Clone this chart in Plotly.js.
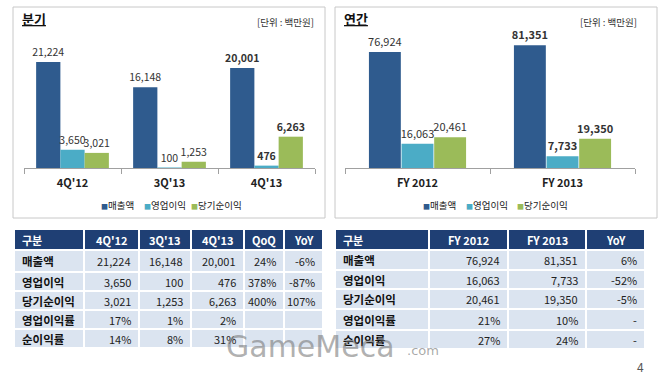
<!DOCTYPE html>
<html><head><meta charset="utf-8">
<script src="https://cdn.plot.ly/plotly-3.0.1.min.js"></script>
<style>html,body{margin:0;padding:0;background:#fff}#c{width:660px;height:378px}</style>
</head><body><div id="c"></div>
<script>
// ---- data ----
const seriesNames = ["매출액", "영업이익", "당기순이익"];
const quarters = ["4Q'12", "3Q'13", "4Q'13"];
const qSales = [21224, 16148, 20001];
const qOp = [3650, 100, 476];
const qNet = [3021, 1253, 6263];
const years = ["FY 2012", "FY 2013"];
const ySales = [76924, 81351];
const yOp = [16063, 7733];
const yNet = [20461, 19350];
const rowLabels = ["매출액", "영업이익", "당기순이익", "영업이익률", "순이익률"];
const qOpMargin = ["17%", "1%", "2%"];
const qNetMargin = ["14%", "8%", "31%"];
const qQoQ = ["24%", "378%", "400%", "", ""];
const qYoY = ["-6%", "-87%", "107%", "", ""];
const yOpMargin = ["21%", "10%"];
const yNetMargin = ["27%", "24%"];
const yYoY = ["6%", "-52%", "-5%", "-", "-"];
const headerFirst = "구분";
const changeHeaders = ["QoQ", "YoY"];

// ---- layout helpers ----
const W = 660, H = 378;
const px = x => x / W, py = y => 1 - y / H;
const fmt = v => v.toLocaleString('en-US');
const colors = ["#2f5b8e", "#4bacc6", "#9bbb59"];
const FONT = "'Noto Sans CJK KR', 'Noto Sans', sans-serif";

function labels(arr) {
  return arr.map((v, i) => i === arr.length - 1 ? "<b>%{y:,}</b>" : "%{y:,}");
}

const traces = [];
const qSeries = [qSales, qOp, qNet];
const ySeries = [ySales, yOp, yNet];
const qOff = [-0.375, -0.125, 0.125], qW = 0.25;
const yOff = [-0.335, -0.11, 0.115], yW = 0.22;
qSeries.forEach((s, i) => traces.push({
  type: 'bar', x: quarters, y: s, name: seriesNames[i], xaxis: 'x', yaxis: 'y',
  showlegend: false, marker: {color: colors[i]}, width: qW, offset: qOff[i],
  texttemplate: labels(s), textposition: 'outside', cliponaxis: false, constraintext: 'none',
  textfont: {size: 10.5, color: '#333', family: FONT}, hoverinfo: 'skip'
}));
ySeries.forEach((s, i) => traces.push({
  type: 'bar', x: years, y: s, name: seriesNames[i], xaxis: 'x2', yaxis: 'y2',
  showlegend: false, marker: {color: colors[i]}, width: yW, offset: yOff[i],
  texttemplate: labels(s), textposition: 'outside', cliponaxis: false, constraintext: 'none',
  textfont: {size: 11, color: '#333', family: FONT}, hoverinfo: 'skip'
}));

// ---- tables (heatmap cells + text) ----
const qColumns = [rowLabels].concat(
  [0, 1, 2].map(i => [fmt(qSales[i]), fmt(qOp[i]), fmt(qNet[i]), qOpMargin[i], qNetMargin[i]]),
  [qQoQ, qYoY]);
const qHeaders = [headerFirst].concat(quarters, changeHeaders);
const yColumns = [rowLabels].concat(
  [0, 1].map(i => [fmt(ySales[i]), fmt(yOp[i]), fmt(yNet[i]), yOpMargin[i], yNetMargin[i]]),
  [yYoY]);
const yHeaders = [headerFirst].concat(years, ["YoY"]);

// column / row edges (layout sizes in px)
const qColEdges = [0, 70, 125, 177, 230, 270, 309];
const qRowEdges = [0, 21, 43, 62, 81, 100, 119];
const yColEdges = [0, 94, 173, 251, 310];
const yRowEdges = [0, 21, 41, 60, 80, 101, 120];

const annotations = [];
function buildTable(headers, columns, colEdges, rowEdges, xa, ya) {
  const nRows = columns[0].length + 1;
  const z = [];
  for (let r = 0; r < nRows; r++) z.push(headers.map(() => r === 0 ? 1 : 0));
  traces.push({
    type: 'heatmap', x: colEdges, y: rowEdges, z: z, xaxis: xa, yaxis: ya,
    colorscale: [[0, '#dbe4f0'], [1, '#1f3f74']], zmin: 0, zmax: 1, showscale: false,
    xgap: 2, ygap: 2, hoverinfo: 'skip'
  });
  headers.forEach((h, c) => {
    const left = c === 0;
    annotations.push({
      text: '<b>' + h + '</b>', xref: xa, yref: ya,
      x: left ? colEdges[c] + 6 : (colEdges[c] + colEdges[c + 1]) / 2,
      y: (rowEdges[0] + rowEdges[1]) / 2, xanchor: left ? 'left' : 'center', yanchor: 'middle',
      showarrow: false, font: {size: 11, color: '#ffffff', family: FONT}
    });
  });
  columns.forEach((col, c) => {
    col.forEach((v, r) => {
      const left = c === 0;
      annotations.push({
        text: left ? '<b>' + v + '</b>' : v, xref: xa, yref: ya,
        x: left ? colEdges[c] + 6 : colEdges[c + 1] - 6,
        y: (rowEdges[r + 1] + rowEdges[r + 2]) / 2, xanchor: left ? 'left' : 'right', yanchor: 'middle',
        showarrow: false, font: {size: left ? 11.5 : 11, color: left ? '#111' : '#222', family: FONT}
      });
    });
  });
}
buildTable(qHeaders, qColumns, qColEdges, qRowEdges, 'x3', 'y3');
buildTable(yHeaders, yColumns, yColEdges, yRowEdges, 'x4', 'y4');

// ---- legends (colored squares + text) ----
const legendPos = [[100, 143, 190], [422, 465, 516]];
legendPos.forEach(pos => pos.forEach((x, i) => annotations.push({
  text: "<span style='color:" + colors[i] + ";font-size:7px'>■</span>" + seriesNames[i],
  xref: 'paper', yref: 'paper', x: px(x - 1), y: py(205), xanchor: 'left', yanchor: 'middle',
  showarrow: false, font: {size: 9.5, color: '#222', family: FONT}
})));

const xax = dom => ({domain: dom, type: 'category', showline: true, linecolor: '#a0a0a0',
  ticks: 'outside', tickson: 'boundaries', ticklen: 5, tickcolor: '#a0a0a0', showgrid: false,
  ticklabelstandoff: 5,
  zeroline: false, tickfont: {size: 11, color: '#222', family: FONT, weight: 'bold'}, fixedrange: true});
const yax = (r) => ({domain: [py(168), py(40)], range: r, visible: false, fixedrange: true});
const xa1 = xax([px(24), px(315)]); xa1.range = [-0.5, 2.5]; xa1.anchor = 'y';
const xa2 = xax([px(345), px(635)]); xa2.range = [-0.5, 1.5]; xa2.anchor = 'y2';
const hid = (dom, r, anchor) => ({domain: dom, range: r, visible: false, fixedrange: true, anchor: anchor,
  showgrid: false, zeroline: false});

annotations.push(
  {text: '<b><u>분기</u></b>', xref: 'paper', yref: 'paper', x: px(20), y: py(19), xanchor: 'left', yanchor: 'middle',
    showarrow: false, font: {size: 13, color: '#111', family: FONT}},
  {text: '[단위 : 백만원]', xref: 'paper', yref: 'paper', x: px(316), y: py(22), xanchor: 'right', yanchor: 'middle',
    showarrow: false, font: {size: 9.5, color: '#333', family: FONT}},
  {text: '<b><u>연간</u></b>', xref: 'paper', yref: 'paper', x: px(342), y: py(19), xanchor: 'left', yanchor: 'middle',
    showarrow: false, font: {size: 13, color: '#111', family: FONT}},
  {text: '[단위 : 백만원]', xref: 'paper', yref: 'paper', x: px(639), y: py(22), xanchor: 'right', yanchor: 'middle',
    showarrow: false, font: {size: 9.5, color: '#333', family: FONT}},
  {text: 'GameMeca', xref: 'paper', yref: 'paper', x: px(224), y: py(346), xanchor: 'left', yanchor: 'middle',
    showarrow: false, font: {size: 30, color: 'rgba(110,110,110,0.55)', family: 'DejaVu Sans'}},
  {text: '.com', xref: 'paper', yref: 'paper', x: px(405), y: py(350), xanchor: 'left', yanchor: 'middle',
    showarrow: false, font: {size: 13, color: 'rgba(110,110,110,0.6)', family: 'DejaVu Sans'}},
  {text: '4', xref: 'paper', yref: 'paper', x: px(640), y: py(366), xanchor: 'center', yanchor: 'middle',
    showarrow: false, font: {size: 12, color: '#555', family: FONT}}
);

const layout = {
  width: W, height: H, margin: {l: 0, r: 0, t: 0, b: 0},
  paper_bgcolor: '#ffffff', plot_bgcolor: 'rgba(0,0,0,0)',
  font: {family: FONT},
  barmode: 'group',
  showlegend: false,
  xaxis: xa1, yaxis: Object.assign(yax([0, 25600]), {anchor: 'x'}),
  xaxis2: xa2, yaxis2: Object.assign(yax([0, 84880]), {anchor: 'x2'}),
  xaxis3: hid([px(14), px(323)], [0, 309], 'y3'),
  yaxis3: hid([py(348), py(229)], [119, 0], 'x3'),
  xaxis4: hid([px(335), px(645)], [0, 310], 'y4'),
  yaxis4: hid([py(349), py(229)], [120, 0], 'x4'),
  shapes: [
    {type: 'rect', xref: 'paper', yref: 'paper', x0: px(13), x1: px(325), y0: py(218), y1: py(7),
      line: {color: '#c8c8c8', width: 1}, layer: 'below'},
    {type: 'rect', xref: 'paper', yref: 'paper', x0: px(335), x1: px(657), y0: py(218), y1: py(7),
      line: {color: '#c8c8c8', width: 1}, layer: 'below'}
  ],
  annotations: annotations
};
Plotly.newPlot('c', traces, layout, {staticPlot: true, displayModeBar: false});
</script></body></html>
